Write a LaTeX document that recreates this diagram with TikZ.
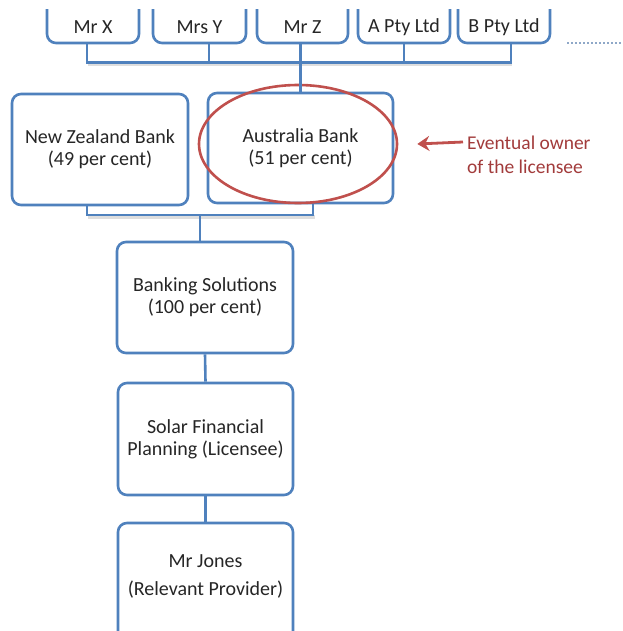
\documentclass[tikz,border=0pt]{standalone}
\usepackage{fontspec}
\setmainfont{Carlito}
\usetikzlibrary{arrows.meta,shapes.geometric}
\definecolor{boxblue}{HTML}{4F81BD}
\definecolor{ovalred}{HTML}{C0504D}
\definecolor{notered}{HTML}{A23B3B}
\definecolor{txt}{HTML}{262626}
\definecolor{dotblue}{HTML}{8FA8C8}
\begin{document}
\begin{tikzpicture}[x=1pt,y=-1pt,
  box/.style={draw=boxblue, line width=2.6pt, rounded corners=9pt, fill=white, inner sep=0pt},
  lbl/.style={text=txt, font=\fontsize{20}{22}\selectfont, align=center, inner sep=0pt},
  note/.style={text=notered, font=\fontsize{19.5}{24}\selectfont, align=left, inner sep=0pt},
  link/.style={draw=boxblue, line width=2.6pt},
  shadowlink/.style={draw=black!13, line width=2.6pt},
  oval/.style={draw=ovalred, line width=2.6pt, ellipse, inner sep=0pt},
  pointer/.style={draw=ovalred, line width=2.8pt, -{Stealth[length=12pt,width=15pt,inset=4pt]}}]
\useasboundingbox (0,0) rectangle (622,631);
\fill[white] (0,0) rectangle (622,631);

\begin{scope}
\clip (0,10) rectangle (622,631);
% top row of owners
\node[box, minimum width=92pt, minimum height=60pt] (mrx)  at (93,13) {};
\node[box, minimum width=93pt, minimum height=60pt] (mrsy) at (199.5,13) {};
\node[box, minimum width=91pt, minimum height=60pt] (mrz)  at (302.5,13) {};
\node[box, minimum width=92pt, minimum height=60pt] (apty) at (404,13) {};
\node[box, minimum width=92pt, minimum height=60pt] (bpty) at (504,13) {};
% Mr Jones box (cut at the bottom)
\node[box, minimum width=175pt, minimum height=130pt] (jones) at (205.5,588) {};
\end{scope}

\node[lbl] (tmrx)  at (93,27)    {Mr X};
\node[lbl] (tmrsy) at (199.5,27) {Mrs Y};
\node[lbl] (tmrz)  at (302.5,27) {Mr Z};
\node[lbl] (tapty) at (404,27)   {A Pty Ltd};
\node[lbl] (tbpty) at (504,27)   {B Pty Ltd};

\coordinate (dotA) at (567,43);
\coordinate (dotB) at (622,43);
\draw[dotblue, line width=2.4pt, dash pattern=on 1.6pt off 2.4pt] (dotA) -- (dotB);

% banks
\node[box, minimum width=176pt, minimum height=111pt, lbl] (nz) at (100,149.5)
  {New Zealand Bank\\(49 per cent)};
\node[box, minimum width=185pt, minimum height=110pt, lbl] (ab) at (300.5,148)
  {Australia Bank\\(51 per cent)};
\node[oval, minimum width=198pt, minimum height=118pt] (ring) at (298,144) {};

% subsidiaries
\node[box, minimum width=176pt, minimum height=111pt, lbl] (bs) at (205,297.5)
  {Banking Solutions\\(100 per cent)};
\node[box, minimum width=175pt, minimum height=112pt, lbl] (solar) at (205.5,439)
  {Solar Financial\\Planning (Licensee)};
\node[lbl] (tjones) at (205.5,576) {Mr Jones\\[6pt](Relevant Provider)};

% note
\node[note, anchor=west] (eventual) at (467,155) {Eventual owner\\of the licensee};
\draw[pointer] ([shift={(-4pt,13pt)}]eventual.west) -- ([xshift=19pt]ring.east);

% connectors: owners -> Australia Bank
\draw[shadowlink] ([shift={(-5pt,-20.5pt)}]mrx.south) -| ([shift={(8pt,-20.5pt)}]bpty.south);
\draw[link] ([xshift=-6pt]mrx.south) -- ++(0,18) -| ([xshift=7pt]bpty.south);
\draw[link] ([xshift=9.5pt]mrsy.south) -- ++(0,18);
\draw[link] ([xshift=0pt]apty.south) -- ++(0,18);
\draw[link] (mrz.south -| ab.north) -- (ab.north);

% banks -> Banking Solutions
\draw[shadowlink] ([shift={(-12pt,-11pt)}]nz.south) -| ([shift={(13.5pt,-11pt)}]ab.south);
\draw[link] ([xshift=-13pt]nz.south) -- ++(0,8.5) -| ([xshift=12.5pt]ab.south);
\draw[link] (bs.north -| 200,0) ++(0,-26) -- ([xshift=-5pt]bs.north);

% chain
\draw[link] (bs.south) -- (solar.north);
\draw[link] (solar.south) -- (jones.north);
\end{tikzpicture}
\end{document}
